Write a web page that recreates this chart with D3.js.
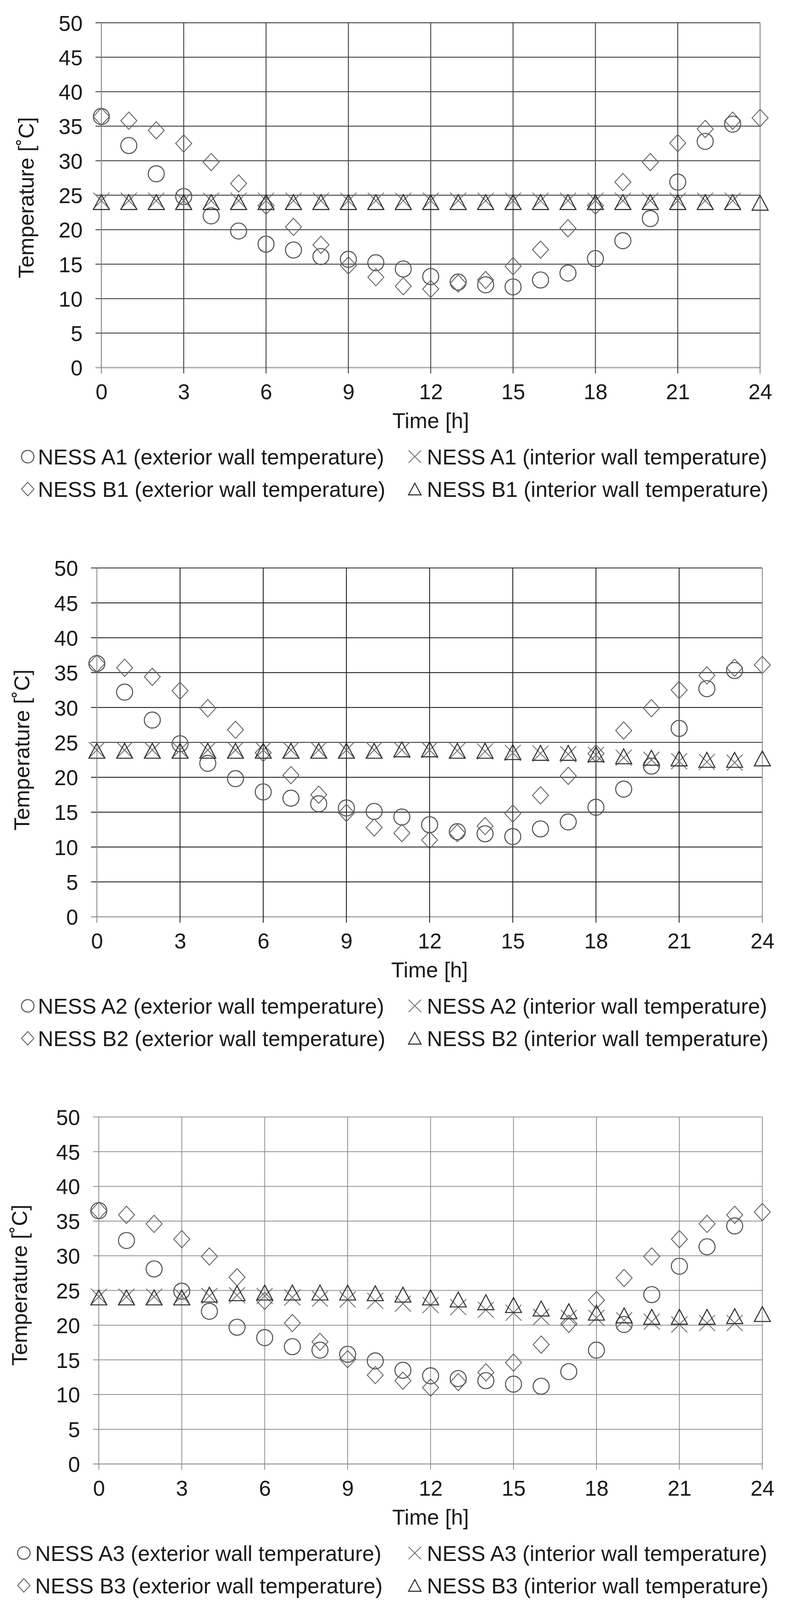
<!DOCTYPE html>
<html>
<head>
<meta charset="utf-8">
<script src="https://cdn.jsdelivr.net/npm/d3@7"></script>
<style>
  body { margin: 0; background: #fff; }
  svg { display: block; font-family: "Liberation Sans", Arial, sans-serif; }
</style>
</head>
<body>
<div id="chart"></div>
<script>
// hours and tick values
var hours = d3.range(0, 25);
var xTicks = [0, 3, 6, 9, 12, 15, 18, 21, 24];
var yTicks = [0, 5, 10, 15, 20, 25, 30, 35, 40, 45, 50];

// panel 1 (hours 0..23 or 0..24)
var a1Exterior = [36.4, 32.2, 28.1, 24.8, 22.0, 19.8, 17.9, 17.05, 16.1, 15.7, 15.2, 14.3, 13.2, 12.4, 12.0, 11.7, 12.7, 13.7, 15.8, 18.4, 21.6, 26.9, 32.8, 35.3];
var a1Interior = [24.2, 24.2, 24.2, 24.2, 24.2, 24.2, 24.2, 24.2, 24.2, 24.2, 24.2, 24.2, 24.2, 24.2, 24.2, 24.2, 24.2, 24.2, 24.2, 24.2, 24.2, 24.2, 24.2, 24.2];
var b1Exterior = [36.4, 35.8, 34.4, 32.5, 29.8, 26.7, 23.5, 20.4, 17.8, 14.8, 13.1, 11.8, 11.4, 12.2, 12.7, 14.7, 17.1, 20.2, 23.5, 26.9, 29.8, 32.55, 34.6, 35.8, 36.2];
var b1Interior = [24.0, 24.0, 24.0, 24.0, 24.0, 24.0, 24.0, 24.0, 24.0, 24.0, 24.0, 24.0, 24.0, 24.0, 24.0, 24.0, 24.0, 24.0, 24.0, 24.0, 24.0, 24.0, 24.0, 24.0, 23.9];

// panel 2
var a2Exterior = [36.3, 32.2, 28.2, 24.8, 22.0, 19.8, 17.9, 17.0, 16.2, 15.6, 15.1, 14.3, 13.2, 12.2, 11.9, 11.5, 12.6, 13.6, 15.7, 18.3, 21.6, 27.0, 32.7, 35.3];
var a2Interior = [23.9, 23.9, 23.9, 23.9, 23.9, 23.9, 23.9, 23.9, 23.9, 23.9, 23.9, 23.9, 23.9, 23.8, 23.7, 23.5, 23.4, 23.3, 23.2, 22.8, 22.5, 22.3, 22.2, 22.1];
var b2Exterior = [36.3, 35.7, 34.4, 32.4, 29.9, 26.8, 23.5, 20.3, 17.5, 14.9, 12.8, 12.0, 11.0, 12.0, 13.0, 14.8, 17.4, 20.2, 23.4, 26.7, 29.9, 32.5, 34.6, 35.7, 36.1];
var b2Interior = [23.8, 23.8, 23.8, 23.8, 23.8, 23.8, 23.8, 23.8, 23.8, 23.8, 23.8, 24.0, 24.0, 23.8, 23.8, 23.6, 23.5, 23.5, 23.3, 23.0, 22.8, 22.7, 22.5, 22.5, 22.7];

// panel 3
var a3Exterior = [36.5, 32.2, 28.1, 24.9, 22.0, 19.7, 18.2, 16.9, 16.4, 15.8, 14.85, 13.5, 12.7, 12.3, 12.0, 11.5, 11.2, 13.3, 16.4, 20.1, 24.4, 28.5, 31.3, 34.3];
var a3Interior = [24.1, 24.1, 24.1, 24.2, 24.2, 24.3, 24.2, 24.0, 23.8, 23.7, 23.5, 23.1, 22.9, 22.6, 22.2, 21.8, 21.2, 21.05, 21.05, 20.7, 20.5, 20.1, 20.3, 20.3];
var b3Exterior = [36.5, 35.9, 34.6, 32.4, 29.9, 26.9, 23.5, 20.3, 17.6, 15.1, 12.8, 12.0, 11.0, 11.8, 13.2, 14.6, 17.2, 20.2, 23.6, 26.8, 29.9, 32.4, 34.6, 35.9, 36.3];
var b3Interior = [24.0, 24.0, 24.0, 24.0, 24.4, 24.6, 24.7, 24.7, 24.7, 24.7, 24.6, 24.4, 24.0, 23.7, 23.3, 22.9, 22.4, 22.0, 21.8, 21.4, 21.2, 21.2, 21.2, 21.3, 21.6];

var legendLabels = [
  ["NESS A1 (exterior wall temperature)", "NESS A1 (interior wall temperature)", "NESS B1 (exterior wall temperature)", "NESS B1 (interior wall temperature)"],
  ["NESS A2 (exterior wall temperature)", "NESS A2 (interior wall temperature)", "NESS B2 (exterior wall temperature)", "NESS B2 (interior wall temperature)"],
  ["NESS A3 (exterior wall temperature)", "NESS A3 (interior wall temperature)", "NESS B3 (exterior wall temperature)", "NESS B3 (interior wall temperature)"]
];
var xTitle = "Time [h]";
var yTitle = "Temperature [\u02daC]";

// layout of each panel in page pixels
var panels = [
  {left: 259.5, right: 1946, top: 58.3, bottom: 941, grid: "#4a4a4a", gridW: 2.5, titleX: 86, titleY: 506,
   legendX: [71, 97, 1062, 1093], series: [a1Exterior, a1Interior, b1Exterior, b1Interior]},
  {left: 248, right: 1951.7, top: 1454, bottom: 2347, grid: "#1e1e1e", gridW: 2.2, titleX: 75, titleY: 1920,
   legendX: [71, 97, 1062, 1093], series: [a2Exterior, a2Interior, b2Exterior, b2Interior]},
  {left: 253, right: 1951.7, top: 2859.5, bottom: 3747.7, grid: "#8c8c8c", gridW: 2, titleX: 69, titleY: 3290,
   legendX: [61, 90, 1062, 1093], series: [a3Exterior, a3Interior, b3Exterior, b3Interior]}
];

// marker shapes: 0 circle, 1 cross, 2 diamond, 3 triangle
var markerStroke = ["#505050", "#6e6e6e", "#606060", "#2e2e2e"];
function markerPath(kind, s) {
  var p = d3.path();
  if (kind === 1) {
    p.moveTo(-s, -s); p.lineTo(s, s);
    p.moveTo(s, -s); p.lineTo(-s, s);
  } else if (kind === 2) {
    p.moveTo(0, -s * 1.08); p.lineTo(s, 0); p.lineTo(0, s * 1.08); p.lineTo(-s, 0); p.closePath();
  } else if (kind === 3) {
    p.moveTo(0, -s * 0.93); p.lineTo(s, s * 0.93); p.lineTo(-s, s * 0.93); p.closePath();
  }
  return p.toString();
}
function drawMarker(g, kind, cx, cy, s) {
  if (kind === 0) {
    g.append("circle").attr("cx", cx).attr("cy", cy).attr("r", s)
      .attr("fill", "none").attr("stroke", markerStroke[0]).attr("stroke-width", 2.6);
  } else {
    g.append("path").attr("d", markerPath(kind, s))
      .attr("transform", "translate(" + cx + "," + cy + ")")
      .attr("fill", "none").attr("stroke", markerStroke[kind])
      .attr("stroke-width", kind === 3 ? 2.6 : 2.2);
  }
}

var svg = d3.select("#chart").append("svg")
  .attr("width", 2020).attr("height", 4133);
svg.append("rect").attr("width", 2020).attr("height", 4133).attr("fill", "#fff");

panels.forEach(function(pn, pi) {
  var x = d3.scaleLinear().domain([0, 24]).range([pn.left, pn.right]);
  var y = d3.scaleLinear().domain([0, 50]).range([pn.bottom, pn.top]);
  var g = svg.append("g");

  // grid lines with small outside ticks
  g.append("g").selectAll("line").data(yTicks).enter().append("line")
    .attr("x1", pn.left - 15).attr("x2", pn.right)
    .attr("y1", function(d) { return y(d); }).attr("y2", function(d) { return y(d); })
    .attr("stroke", function(d) { return d === 0 ? "#b4b4b4" : pn.grid; })
    .attr("stroke-width", function(d) { return d === 0 ? 4 : pn.gridW; });
  g.append("g").selectAll("line").data(xTicks).enter().append("line")
    .attr("y1", pn.top).attr("y2", pn.bottom + 15)
    .attr("x1", function(d) { return x(d); }).attr("x2", function(d) { return x(d); })
    .attr("stroke", function(d) { return (d === 0 || d === 24) ? "#8a8a8a" : pn.grid; })
    .attr("stroke-width", pn.gridW);

  // tick labels
  var yAxis = g.append("g").attr("transform", "translate(" + pn.left + ",0)")
    .call(d3.axisLeft(y).tickValues(yTicks).tickSize(0).tickPadding(48));
  var xAxis = g.append("g").attr("transform", "translate(0," + pn.bottom + ")")
    .call(d3.axisBottom(x).tickValues(xTicks).tickSize(0).tickPadding(42));
  [yAxis, xAxis].forEach(function(a) {
    a.select(".domain").remove();
    a.selectAll("text").attr("font-size", 55).attr("fill", "#1a1a1a")
      .attr("font-family", "Liberation Sans, Arial, sans-serif");
  });
  yAxis.selectAll("text").attr("dy", "0.36em");

  // axis titles
  g.append("text").attr("x", (pn.left + pn.right) / 2).attr("y", pn.bottom + 155)
    .attr("text-anchor", "middle").attr("font-size", 55).attr("fill", "#1a1a1a").text(xTitle);
  g.append("text").attr("transform", "translate(" + pn.titleX + "," + pn.titleY + ") rotate(-90)")
    .attr("text-anchor", "middle").attr("font-size", 55).attr("fill", "#1a1a1a").text(yTitle);

  // data markers: exterior first, interior on top
  var order = [0, 2, 1, 3];
  order.forEach(function(k) {
    var vals = pn.series[k];
    var mg = g.append("g");
    vals.forEach(function(v, i) {
      drawMarker(mg, k, x(hours[i]), y(v), k === 0 ? 20.5 : (k === 2 ? 20.5 : 20.5));
    });
  });

  // legend
  var rows = [pn.bottom + 248, pn.bottom + 331];
  legendLabels[pi].forEach(function(lab, k) {
    var row = k < 2 ? 0 : 1, col = k % 2;
    var mx = pn.legendX[col * 2], tx = pn.legendX[col * 2 + 1];
    var lg = g.append("g");
    var kind = k === 0 ? 0 : (k === 1 ? 1 : (k === 2 ? 2 : 3));
    drawMarker(lg, kind, mx, rows[row] - 20, 16);
    lg.append("text").attr("x", tx).attr("y", rows[row])
      .attr("font-size", 55).attr("fill", "#1a1a1a").text(lab);
  });
});
</script>
</body>
</html>
